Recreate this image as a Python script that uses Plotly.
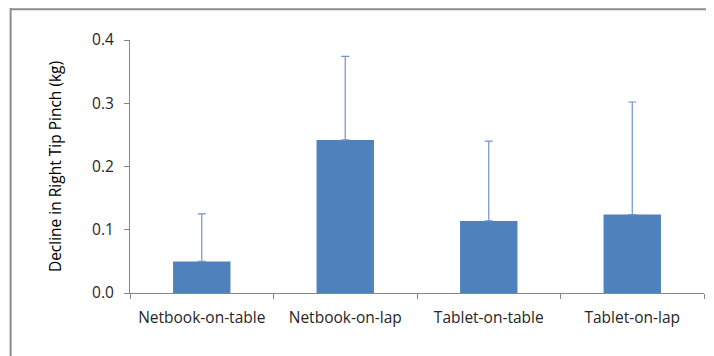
import plotly.graph_objects as go

categories = ["Netbook-on-table", "Netbook-on-lap", "Tablet-on-table", "Tablet-on-lap"]
decline = [0.050, 0.242, 0.114, 0.124]
error_plus = [0.075, 0.132, 0.126, 0.178]
y_ticks = [0.0, 0.1, 0.2, 0.3, 0.4]

FONT = "Open Sans"
AXIS = "#868686"

fig = go.Figure(
    go.Bar(
        x=categories,
        y=decline,
        width=0.4,
        marker=dict(color="#4F81BD", line=dict(width=0)),
        error_y=dict(
            type="data",
            symmetric=False,
            array=error_plus,
            arrayminus=[0] * len(error_plus),
            color="#6f94c9",
            thickness=1.2,
            width=4,
        ),
    )
)

# page body adds an 8px offset, so the figure is sized 8px smaller
fig.update_layout(
    width=706,
    height=348,
    margin=dict(l=122, r=10, t=32, b=63),
    paper_bgcolor="white",
    plot_bgcolor="white",
    showlegend=False,
    font=dict(family=FONT, size=15, color="#262626"),
    shapes=[
        dict(type="line", xref="paper", yref="paper",
             x0=-0.208, x1=1.05, y0=1.122, y1=1.122,
             line=dict(color="#8c8c8c", width=2)),
        dict(type="line", xref="paper", yref="paper",
             x0=-0.208, x1=-0.208, y0=1.126, y1=-0.3,
             line=dict(color="#8c8c8c", width=2)),
    ],
)

fig.update_xaxes(
    type="category",
    showline=True,
    linecolor=AXIS,
    linewidth=1,
    ticks="outside",
    tickson="boundaries",
    ticklen=5,
    tickcolor=AXIS,
    showgrid=False,
    tickfont=dict(family=FONT, size=15.5, color="#262626"),
    ticklabelstandoff=10,
)

fig.update_yaxes(
    range=[0, 0.4],
    tickvals=y_ticks,
    tickformat=".1f",
    showline=True,
    linecolor=AXIS,
    linewidth=1,
    ticks="outside",
    ticklen=5,
    tickcolor=AXIS,
    showgrid=False,
    zeroline=False,
    tickfont=dict(family=FONT, size=15.5, color="#262626"),
    ticklabelstandoff=7,
    title=dict(text="Decline in Right Tip Pinch (kg)",
               font=dict(family=FONT, size=15.5, color="#000000"),
               standoff=26),
)

fig.write_html("out.html")
